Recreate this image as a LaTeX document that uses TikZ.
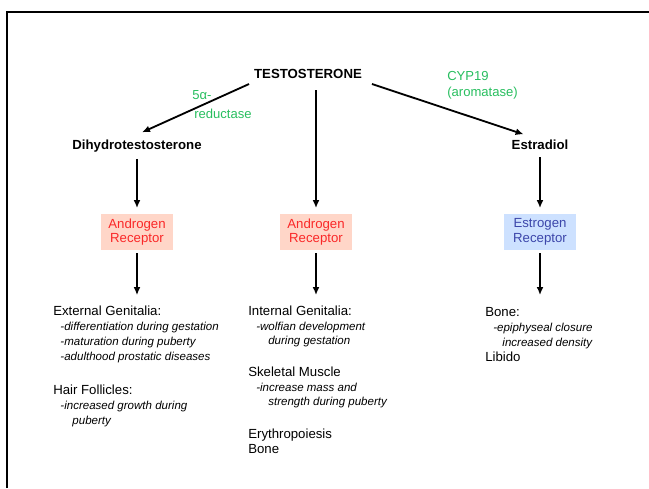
\documentclass[tikz,border=0pt]{standalone}
\usepackage{fontspec}
\setmainfont{Liberation Sans}
\usetikzlibrary{positioning, arrows.meta}

\definecolor{enzgreen}{RGB}{40,190,95}
\definecolor{arfill}{RGB}{255,214,200}
\definecolor{artext}{RGB}{250,40,40}
\definecolor{erfill}{RGB}{205,225,255}
\definecolor{ertext}{RGB}{60,70,170}

\newcommand{\effectline}[1]{{\fontsize{8.2}{10.5}\selectfont\itshape #1}}

\begin{document}
\begin{tikzpicture}[x=0.25mm, y=-0.25mm, >=latex,
	font=\fontsize{9.4}{10.5}\selectfont,
	hormone/.style={font=\fontsize{9.4}{10.5}\selectfont\bfseries, inner sep=2pt},
	receptor/.style={minimum width=18mm, minimum height=9mm, align=center, inner sep=1pt},
	androgen/.style={receptor, fill=arfill, text=artext},
	estrogen/.style={receptor, fill=erfill, text=ertext},
	enzyme/.style={text=enzgreen, align=left, anchor=north west, inner sep=0pt},
	effects/.style={align=left, anchor=north west, inner sep=0pt},
	arrow/.style={-{Latex[length=2mm, width=1.7mm]}, line width=1.3pt}]
	
	\useasboundingbox (0,0) rectangle (649,488);
	\draw[line width=0.5mm] (6.5,488) -- (6.5,11.5) -- (649,11.5);
	
	\node[hormone] (testo) at (308,74) {TESTOSTERONE};
	\node[hormone, anchor=base] (dht) at (137,149) {Dihydrotestosterone};
	\node[hormone, anchor=base] (estr) at (540,149) {Estradiol};
	
	\node[androgen] (ar_left) at (137,232) {Androgen\\Receptor};
	\node[androgen] (ar_mid) at (316,232) {Androgen\\Receptor};
	\node[estrogen] (er_right) at (540,232) {Estrogen\\Receptor};
	
	% enzymes
	\node[enzyme, font=\fontsize{9.3}{13.5}\selectfont] (red5a) at (192,90) {5α-\\\hspace*{0.5mm}reductase};
	\node[enzyme, font=\fontsize{9.3}{11.3}\selectfont] (cyp19) at (447,71) {CYP19\\(aromatase)};
	
	\draw[arrow] ([shift={(-2,10)}]testo.west) -- ([shift={(5,-4)}]dht.north);
	\draw[arrow] ([shift={(7,10)}]testo.east) -- ([shift={(15,-2)}]estr.north west);
	\draw[arrow, shorten <=2.1mm, shorten >=1.4mm] (testo.south -| ar_mid.north) -- (ar_mid.north);
	\draw[arrow, shorten <=1mm, shorten >=1.4mm] (dht) -- (ar_left);
	\draw[arrow, shorten <=1.3mm, shorten >=1.4mm] (estr) -- (er_right);
	
	% effects
	\node[effects] (ext_txt) at (53,306) {External Genitalia:\\
		\hspace*{1.8mm}\effectline{-differentiation during gestation}\\
		\hspace*{1.8mm}\effectline{-maturation during puberty}\\
		\hspace*{1.8mm}\effectline{-adulthood prostatic diseases}\\[5mm]
		Hair Follicles:\\
		\hspace*{1.8mm}\effectline{-increased growth during}\\
		\hspace*{4.8mm}\effectline{puberty}};
	\node[effects] (int_txt) at (248,305.5) {Internal Genitalia:\\
		\hspace*{2mm}\effectline{-wolfian development}\\
		\hspace*{5mm}\effectline{during gestation}\\[4.2mm]
		Skeletal Muscle\\
		\hspace*{2mm}\effectline{-increase mass and}\\
		\hspace*{5mm}\effectline{strength during puberty}\\[4.5mm]
		Erythropoiesis\\
		Bone};
	\node[effects] (bone_txt) at (485,307.5) {Bone:\\
		\hspace*{2mm}\effectline{-epiphyseal closure}\\
		\hspace*{4.3mm}\effectline{increased density}\\
		Libido};
	
	\draw[arrow, shorten <=0.8mm, shorten >=2.7mm] (ar_left.south) -- (ar_left.south |- ext_txt.north);
	\draw[arrow, shorten <=0.8mm, shorten >=2.6mm] (ar_mid.south) -- (ar_mid.south |- int_txt.north);
	\draw[arrow, shorten <=0.8mm, shorten >=3.1mm] (er_right.south) -- (er_right.south |- bone_txt.north);
\end{tikzpicture}
\end{document}
